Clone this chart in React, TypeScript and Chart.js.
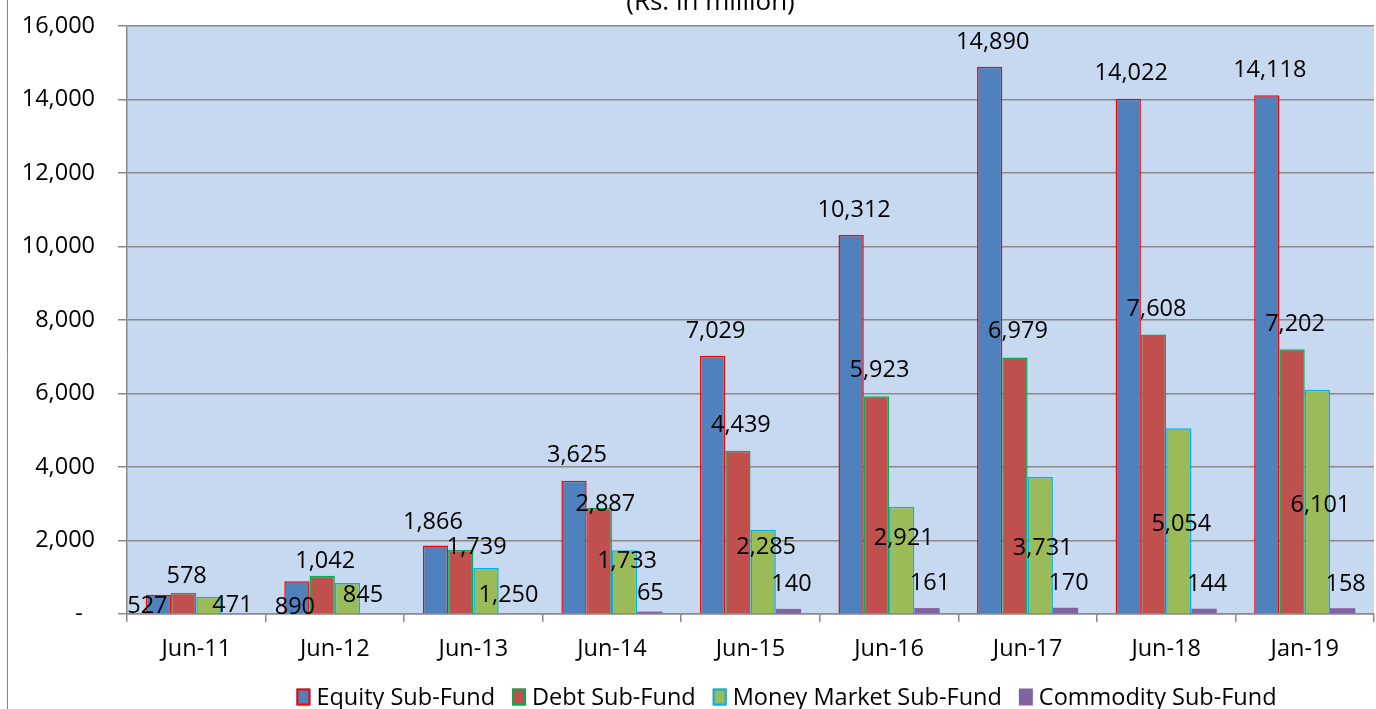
import React, { useEffect, useRef } from "react";
import { Chart, registerables } from "chart.js";

Chart.register(...registerables);

// ---------- data ----------
const categories = ["Jun-11", "Jun-12", "Jun-13", "Jun-14", "Jun-15", "Jun-16", "Jun-17", "Jun-18", "Jan-19"];
const equity = [527, 890, 1866, 3625, 7029, 10312, 14890, 14022, 14118];
const debt = [578, 1042, 1739, 2887, 4439, 5923, 6979, 7608, 7202];
const moneyMarket = [471, 845, 1250, 1733, 2285, 2921, 3731, 5054, 6101];
const commodity = [null, null, null, 65, 140, 161, 170, 144, 158];
const seriesNames = ["Equity Sub-Fund", "Debt Sub-Fund", "Money Market Sub-Fund", "Commodity Sub-Fund"];
const yMin = 0;
const yMax = 16000;
const yStep = 2000;
const titleText = "(Rs. in million)";

// ---------- styles ----------
const FONT = "'Open Sans', 'Noto Sans', sans-serif";
const FS = 23.5;
const fills = ["#4F81BD", "#C0504D", "#9BBB59", "#8064A2"];
const borders = ["#FF0000", "#00B050", "#00B0F0", "#8064A2"];
const borderWidths = [1.5, 1.5, 1.5, 0];
const GRID = "#898989";
const PLOT_BG = "#C6D9F1";

// data-label nudges (px) relative to the top-centre of each bar
const labelDx = [
  [-11, -2, -2.5, 3, 3, 3, 3, 3, 3],
  [3, 3, 16, 6, 3, 3, 3, 3, 3],
  [23.5, 15.5, 22.5, 2.5, 3, 2, 2.5, 2.5, 3],
  [0, 0, 0, 0.5, 3, 3, 3, 3, 3],
];
const labelDy = [
  [10, 24, -25, -27, -26.5, -26.5, -26, -27, -27],
  [-18, -16, -4, -5, -27, -27.5, -28, -27, -27],
  [7, 11, 26, 9, 16, 30, 70, 94, 113.5],
  [0, 0, 0, -20, -26, -26, -26, -26, -26],
];

const fmt = (v: number) => v.toLocaleString("en-US");

const zeroPad = (s: any) => {
  s.paddingTop = 0;
  s.paddingBottom = 0;
  s.paddingLeft = 0;
  s.paddingRight = 0;
};

const decorPlugin = {
  id: "decor",
  beforeDraw(chart: any) {
    const { ctx, chartArea } = chart;
    ctx.save();
    ctx.fillStyle = "#FFFFFF";
    ctx.fillRect(0, 0, chart.width, chart.height);
    ctx.fillStyle = PLOT_BG;
    ctx.fillRect(chartArea.left, chartArea.top, chartArea.right - chartArea.left, chartArea.bottom - chartArea.top);
    // outer frame (left edge visible)
    ctx.strokeStyle = "#868686";
    ctx.lineWidth = 1;
    ctx.beginPath();
    ctx.moveTo(7.5, 0);
    ctx.lineTo(7.5, chart.height);
    ctx.stroke();
    // title (cut at top)
    ctx.fillStyle = "#000";
    ctx.font = `26px ${FONT}`;
    ctx.textAlign = "center";
    ctx.textBaseline = "alphabetic";
    ctx.fillText(titleText, (chartArea.left + chartArea.right) / 2 - 40, 10);
    ctx.restore();
  },
  afterDatasetsDraw(chart: any) {
    const { ctx } = chart;
    ctx.save();
    ctx.font = `${FS}px ${FONT}`;
    ctx.fillStyle = "#000";
    ctx.textAlign = "center";
    ctx.textBaseline = "alphabetic";
    const cap = FS * 0.714;
    chart.data.datasets.forEach((ds: any, di: number) => {
      const meta = chart.getDatasetMeta(di);
      meta.data.forEach((bar: any, i: number) => {
        const v = ds.data[i];
        if (v === null || v === undefined) return;
        const x = bar.x + labelDx[di][i];
        const y = bar.y + labelDy[di][i] + cap / 2;
        ctx.fillText(fmt(v), x, y);
      });
    });
    ctx.restore();
  },
  afterDraw(chart: any) {
    const { ctx, chartArea } = chart;
    ctx.save();
    ctx.font = `${FS}px ${FONT}`;
    ctx.textBaseline = "alphabetic";
    ctx.textAlign = "left";
    const boxW = 14, boxH = 17, gapText = 6, gapItem = 17;
    const items = chart.data.datasets.map((ds: any, i: number) => ({
      text: ds.label,
      w: ctx.measureText(ds.label).width,
      i,
    }));
    const total = items.reduce((s: number, it: any) => s + boxW + gapText + it.w, 0) + gapItem * (items.length - 1);
    const cx = (chartArea.left + chartArea.right) / 2 + 36;
    const cy = chart.height - 12;
    let x = cx - total / 2;
    const cap = FS * 0.714;
    items.forEach((it: any) => {
      ctx.fillStyle = fills[it.i];
      ctx.fillRect(x, cy - boxH / 2, boxW, boxH);
      if (borderWidths[it.i] > 0) {
        ctx.strokeStyle = borders[it.i];
        ctx.lineWidth = 2;
        ctx.strokeRect(x + 1, cy - boxH / 2 + 1, boxW - 2, boxH - 2);
      }
      x += boxW + gapText;
      ctx.fillStyle = "#000";
      ctx.fillText(it.text, x, cy + cap / 2);
      x += it.w + gapItem;
    });
    ctx.restore();
  },
};

export default function App() {
  const ref = useRef<HTMLCanvasElement | null>(null);
  useEffect(() => {
    if (!ref.current) return;
    const seriesData = [equity, debt, moneyMarket, commodity];
    const chart = new Chart(ref.current, {
      type: "bar",
      data: {
        labels: categories,
        datasets: seriesData.map((d, i) => ({
          label: seriesNames[i],
          data: d as any,
          backgroundColor: fills[i],
          borderColor: borders[i],
          borderWidth: borderWidths[i],
          categoryPercentage: 0.73,
          barPercentage: 1,
        })),
      },
      options: {
        animation: false,
        responsive: false,
        devicePixelRatio: 1,
        layout: { padding: { top: 26, right: 2, bottom: 34, left: 0 } },
        plugins: {
          legend: { display: false },
          title: { display: false },
          tooltip: { enabled: false },
        },
        scales: {
          x: {
            grid: {
              offset: true,
              drawOnChartArea: false,
              drawTicks: true,
              tickLength: 8,
              color: GRID,
              lineWidth: 1.5,
            },
            border: { display: true, color: GRID, width: 1.5 },
            ticks: { color: "#000", font: { family: FONT, size: FS }, padding: 13, maxRotation: 0 },
            afterFit: (s: any) => { s.height = 61; zeroPad(s); },
          },
          y: {
            min: yMin,
            max: yMax,
            grid: { color: GRID, lineWidth: 1.5, drawTicks: true, tickLength: 9 },
            border: { display: true, color: GRID, width: 1.5 },
            ticks: {
              stepSize: yStep,
              color: "#000",
              font: { family: FONT, size: FS },
              padding: 23,
              callback: (v: any) => (Number(v) === 0 ? "-  " : fmt(Number(v))),
            },
            afterFit: (s: any) => { s.width = 127; zeroPad(s); },
          },
        },
      },
      plugins: [decorPlugin],
    });
    return () => chart.destroy();
  }, []);
  return (
    <div style={{ position: "fixed", left: 0, top: 0, width: 1376, height: 709, background: "#fff" }}>
      <canvas ref={ref} width={1376} height={709} style={{ display: "block" }} />
    </div>
  );
}
